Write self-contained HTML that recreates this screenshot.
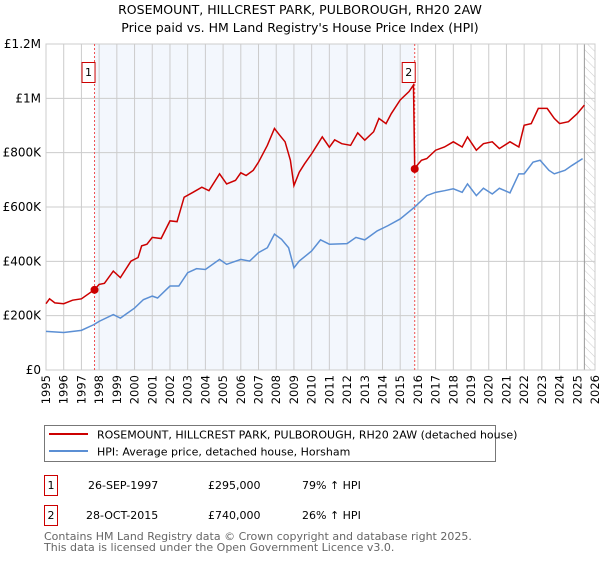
<!DOCTYPE html>
<html><head><meta charset="utf-8"><style>
body{margin:0;background:#fff;font-family:"Liberation Sans","DejaVu Sans",sans-serif;}
svg text{font-family:"DejaVu Sans","Liberation Sans",sans-serif;}
</style></head><body>
<svg id="chart" width="600" height="560" xmlns="http://www.w3.org/2000/svg">
<text x="300" y="14" text-anchor="middle" font-size="12.5" fill="#000">ROSEMOUNT, HILLCREST PARK, PULBOROUGH, RH20 2AW</text>
<text x="300" y="32" text-anchor="middle" font-size="12.5" fill="#000">Price paid vs. HM Land Registry's House Price Index (HPI)</text>
<g id="plot"></g>
<rect x="44.5" y="425.5" width="451" height="36" fill="#fff" stroke="#777"/>
<line x1="49" y1="434" x2="88" y2="434" stroke="#cc0000" stroke-width="2"/>
<text x="97" y="438.5" font-size="11">ROSEMOUNT, HILLCREST PARK, PULBOROUGH, RH20 2AW (detached house)</text>
<line x1="49" y1="451" x2="88" y2="451" stroke="#5b8fd4" stroke-width="2"/>
<text x="97" y="455.5" font-size="11">HPI: Average price, detached house, Horsham</text>
<g font-size="11">
<rect x="44.5" y="475.5" width="13" height="20" fill="#fff" stroke="#cc0000"/>
<text x="51" y="489" text-anchor="middle">1</text>
<text x="88" y="489">26-SEP-1997</text><text x="208" y="489">£295,000</text><text x="302" y="489">79% ↑ HPI</text></g>
<g font-size="11">
<rect x="44.5" y="505.5" width="13" height="20" fill="#fff" stroke="#cc0000"/>
<text x="51" y="519" text-anchor="middle">2</text>
<text x="86" y="519">28-OCT-2015</text><text x="208" y="519">£740,000</text><text x="302" y="519">26% ↑ HPI</text></g>
<text x="44" y="540" font-size="11" fill="#666">Contains HM Land Registry data © Crown copyright and database right 2025.</text>
<text x="44" y="551" font-size="11" fill="#666">This data is licensed under the Open Government Licence v3.0.</text>
</svg>
<script>
const years=[1995,1996,1997,1998,1999,2000,2001,2002,2003,2004,2005,2006,2007,2008,2009,2010,2011,2012,2013,2014,2015,2016,2017,2018,2019,2020,2021,2022,2023,2024,2025,2026];
const yTicks=[0,200000,400000,600000,800000,1000000,1200000];
const yTickLabels=["£0","£200K","£400K","£600K","£800K","£1M","£1.2M"];
const hpiT=[1995,1996,1997,1997.7,1998,1998.8,1999.2,2000,2000.5,2001,2001.3,2002,2002.5,2003,2003.5,2004,2004.8,2005.2,2006,2006.5,2007,2007.5,2007.9,2008.3,2008.7,2009,2009.3,2010,2010.5,2011,2012,2012.5,2013,2013.7,2014.3,2015,2015.8,2016.5,2017,2017.5,2018,2018.5,2018.8,2019.3,2019.7,2020.2,2020.6,2021.2,2021.7,2022,2022.5,2022.9,2023.4,2023.7,2024.3,2024.7,2025.3];
const hpiV=[142,138,146,167,179,204,191,228,259,272,265,309,309,358,373,370,407,389,407,401,432,450,500,481,450,376,401,438,479,463,465,488,479,512,531,556,599,642,654,660,667,654,685,642,669,648,669,652,722,722,765,772,735,722,735,753,778];
const redT=[1995,1995.2,1995.5,1996,1996.5,1997,1997.74,1998,1998.3,1998.8,1999.2,1999.8,2000.2,2000.4,2000.7,2001,2001.5,2002,2002.4,2002.8,2003.3,2003.8,2004.2,2004.8,2005.2,2005.7,2006,2006.3,2006.7,2007,2007.5,2007.9,2008.2,2008.5,2008.8,2009,2009.3,2009.6,2010,2010.3,2010.6,2011,2011.3,2011.7,2012.2,2012.6,2013,2013.5,2013.8,2014.2,2014.5,2015,2015.5,2015.75,2015.82,2016.2,2016.5,2017,2017.5,2018,2018.5,2018.8,2019.3,2019.7,2020.2,2020.6,2021.2,2021.7,2022,2022.4,2022.8,2023.3,2023.7,2024,2024.5,2025,2025.4];
const redV=[244,262,247,244,257,262,296,315,319,364,340,401,414,457,463,488,484,549,546,636,654,673,660,722,685,698,726,716,735,765,827,889,864,840,772,679,728,759,796,827,858,820,847,833,827,873,846,877,926,907,944,994,1025,1049,743,772,778,809,821,840,821,858,809,833,840,815,840,821,901,907,963,963,926,907,914,944,975];
const saleT=[1997.74,2015.82];
const saleV=[295000,740000];
const saleLabels=["1","2"];

const NS="http://www.w3.org/2000/svg";
const X0=46,X1=595,Y0=370,Y1=44;
const xs=t=>X0+(t-1995)/(2026-1995)*(X1-X0);
const ys=v=>Y0-v/1200000*(Y0-Y1);
const plot=document.getElementById('plot');
function mk(tag,attrs){const e=document.createElementNS(NS,tag);for(const k in attrs)e.setAttribute(k,attrs[k]);plot.appendChild(e);return e;}

const sh=mk('rect',{x:xs(saleT[0]),y:Y1,width:xs(saleT[1])-xs(saleT[0]),height:Y0-Y1,fill:'#eef3fc',opacity:0.7});


// hatch
const defs=mk('defs',{});
defs.innerHTML='<pattern id="hatch" width="6" height="6" patternUnits="userSpaceOnUse" patternTransform="rotate(-45)"><line x1="0" y1="0" x2="0" y2="6" stroke="#ccc" stroke-width="1"/></pattern>';
const hx=xs(2025.4);
const ht=mk('rect',{x:hx,y:Y1,width:X1-hx,height:Y0-Y1,fill:'url(#hatch)'});



years.forEach(y=>{
  const l=mk('line',{x1:xs(y),x2:xs(y),y1:Y1,y2:Y0,stroke:'#ccc','stroke-width':1});
  
  
  const t=mk('text',{x:0,y:0,'font-size':11.5,'text-anchor':'end',transform:`translate(${xs(y)+4},${Y0+5}) rotate(-90)`});
  t.textContent=y;
  
  
});
yTicks.forEach((v,i)=>{
  const l=mk('line',{x1:X0,x2:X1,y1:ys(v),y2:ys(v),stroke:'#ccc','stroke-width':1});
  
  
  const t=mk('text',{x:X0-5,y:ys(v)+4,'font-size':12,'text-anchor':'end'});
  t.textContent=yTickLabels[i];
  
  
});
mk('line',{x1:hx,x2:hx,y1:Y1,y2:Y0,stroke:'#999','stroke-width':1});
mk('rect',{x:X0,y:Y1,width:X1-X0,height:Y0-Y1,fill:'none',stroke:'#ccc'});

saleT.forEach((t,i)=>{
  const l=mk('line',{x1:xs(t),x2:xs(t),y1:Y1,y2:Y0,stroke:'#f05050','stroke-width':1,'stroke-dasharray':'2,2'});
  
  
});
const hp=mk('polyline',{points:hpiT.map((t,i)=>xs(t)+','+ys(hpiV[i]*1000)).join(' '),fill:'none',stroke:'#5b8fd4','stroke-width':1.5});


const rp=mk('polyline',{points:redT.map((t,i)=>xs(t)+','+ys(redV[i]*1000)).join(' '),fill:'none',stroke:'#cc0000','stroke-width':1.5});


saleT.forEach((t,i)=>{
  const c=mk('circle',{cx:xs(t),cy:ys(saleV[i]),r:4,fill:'#cc0000'});
  
  
  const b=mk('rect',{x:xs(t)-12.5,y:62.5,width:13,height:20,fill:'#fff',stroke:'#cc0000'});
  
  
  const tx=mk('text',{x:xs(t)-6,y:76,'font-size':11,'text-anchor':'middle'});
  tx.textContent=saleLabels[i];
  
  
});
</script>
</body></html>
